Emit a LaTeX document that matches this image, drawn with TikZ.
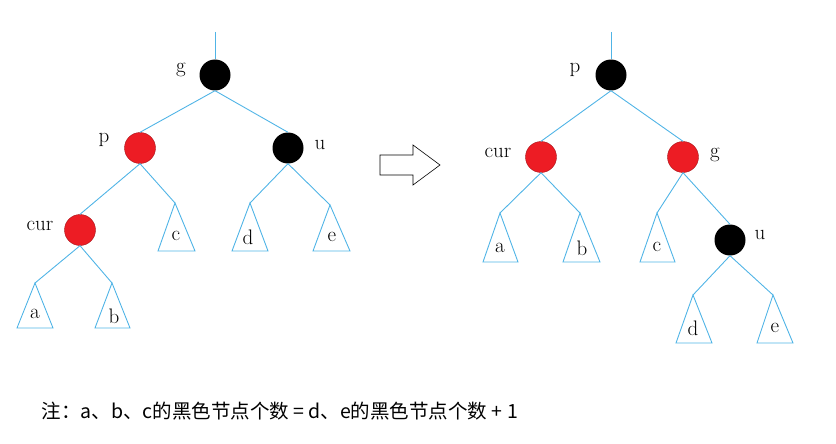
\documentclass[tikz,border=0pt]{standalone}
\usepackage{fontspec}
\newfontfamily\cjk{Noto Sans CJK SC}
\definecolor{ln}{RGB}{80,180,230}
\definecolor{rd}{RGB}{237,28,36}
\begin{document}
\begin{tikzpicture}[x=1pt,y=-1pt,
  edge/.style={draw=ln,line width=0.9pt},
  rn/.style={circle,fill=rd,draw=rd!70!black,line width=0.4pt,minimum size=31pt,inner sep=0pt},
  bn/.style={circle,fill=black,minimum size=31pt,inner sep=0pt},
  lab/.style={font=\fontsize{21}{21}\selectfont},
  tri/.style={draw=ln,line width=0.9pt}]
\useasboundingbox (0,0) rectangle (836,444);
% ---- left tree
\coordinate (gtop) at (215,32);
\node[bn] (g) at (215,75) {};
\node[rn] (p) at (140,148) {};
\node[bn] (u) at (288,148) {};
\node[rn] (cur) at (80,230) {};
\coordinate (ta) at (35,283); \coordinate (tb) at (112,283);
\coordinate (tc) at (175,203); \coordinate (td) at (250,203); \coordinate (te) at (330,205);
\draw[edge] (gtop) -- (g.north);
\draw[edge] (g.south) -- (p.north); \draw[edge] (g.south) -- (u.north);
\draw[edge] (p.south) -- (cur.north); \draw[edge] (p.south) -- (tc);
\draw[edge] (u.south) -- (td); \draw[edge] (u.south) -- (te);
\draw[edge] (cur.south) -- (ta); \draw[edge] (cur.south) -- (tb);
\draw[tri] (ta) -- (17,328) -- (53,328) -- cycle;
\draw[tri] (tb) -- (95,328) -- (130,328) -- cycle;
\draw[tri] (tc) -- (158,251) -- (195,251) -- cycle;
\draw[tri] (td) -- (232,251) -- (268,251) -- cycle;
\draw[tri] (te) -- (313,251) -- (350,251) -- cycle;
\node[lab] (la) at (35,314) {a}; \node[lab] (lb) at (114,316) {b};
\node[lab] (lc) at (176,236) {c}; \node[lab] (ld) at (248,237) {d}; \node[lab] (le) at (332,237) {e};
\node[lab] (ng) at (181,70) {g}; \node[lab] (np) at (104,140) {p};
\node[lab] (nu) at (320,145) {u}; \node[lab] (ncur) at (40,226) {cur};
% ---- arrow
\draw[line width=0.6pt] (380,155) -- (413,155) -- (413,145) -- (440,165) -- (413,185) -- (413,175) -- (380,175) -- cycle;
% ---- right tree
\coordinate (ptop) at (611,32);
\node[bn] (p2) at (611,75) {};
\node[rn] (cur2) at (541,157) {};
\node[rn] (g2) at (683,157) {};
\node[bn] (u2) at (730,240) {};
\coordinate (ta2) at (500,213); \coordinate (tb2) at (580,213);
\coordinate (tc2) at (657,213); \coordinate (td2) at (693,295); \coordinate (te2) at (773,295);
\draw[edge] (ptop) -- (p2.north);
\draw[edge] (p2.south) -- (cur2.north); \draw[edge] (p2.south) -- (g2.north);
\draw[edge] (cur2.south) -- (ta2); \draw[edge] (cur2.south) -- (tb2);
\draw[edge] (g2.south) -- (tc2); \draw[edge] (g2.south) -- (u2.north);
\draw[edge] (u2.south) -- (td2); \draw[edge] (u2.south) -- (te2);
\draw[tri] (ta2) -- (483,262) -- (518,262) -- cycle;
\draw[tri] (tb2) -- (563,262) -- (600,262) -- cycle;
\draw[tri] (tc2) -- (640,262) -- (675,262) -- cycle;
\draw[tri] (td2) -- (676,343) -- (712,343) -- cycle;
\draw[tri] (te2) -- (757,343) -- (793,343) -- cycle;
\node[lab] (la2) at (500,248) {a}; \node[lab] (lb2) at (582,248) {b};
\node[lab] (lc2) at (657,247) {c}; \node[lab] (ld2) at (693,328) {d}; \node[lab] (le2) at (775,328) {e};
\node[lab] (np2) at (575,70) {p}; \node[lab] (ncur2) at (498,153) {cur};
\node[lab] (ng2) at (715,155) {g}; \node[lab] (nu2) at (760,235) {u};
% ---- note
\node[anchor=west,font=\cjk\fontsize{19.5}{20}\selectfont] (note) at (38,411) {注：a、b、c的黑色节点个数 = d、e的黑色节点个数 + 1};
\end{tikzpicture}
\end{document}
